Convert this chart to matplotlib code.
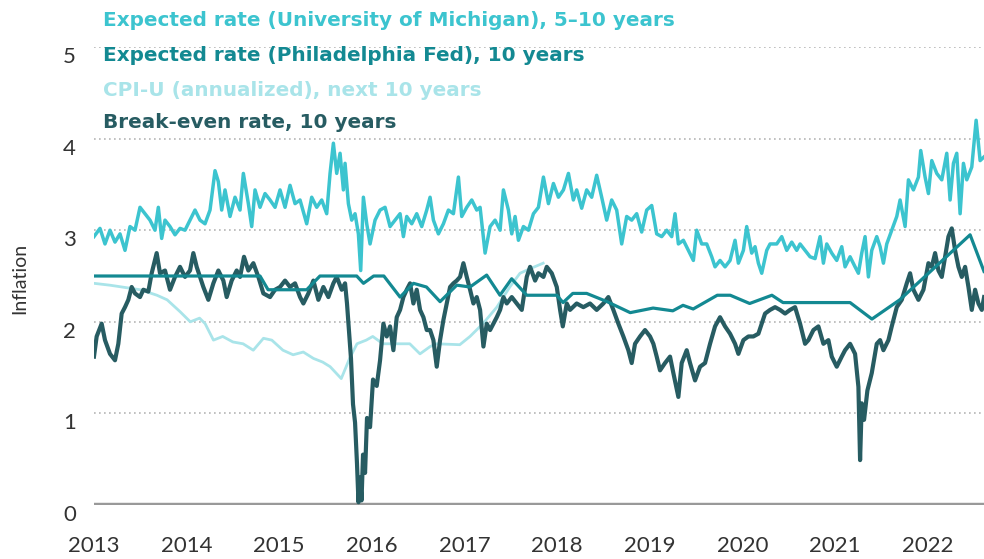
import numpy as np
import matplotlib.pyplot as plt

# Expected rate (University of Michigan), 5-10 years
mich_x = [2013.00, 2013.065, 2013.119, 2013.173, 2013.227, 2013.281, 2013.335, 2013.389,
          2013.443, 2013.497, 2013.551, 2013.605, 2013.659, 2013.695, 2013.731, 2013.767,
          2013.821, 2013.875, 2013.929, 2013.983, 2014.037, 2014.091, 2014.145, 2014.199,
          2014.253, 2014.307, 2014.343, 2014.379, 2014.415, 2014.469, 2014.523, 2014.577,
          2014.613, 2014.667, 2014.703, 2014.739, 2014.793, 2014.847, 2014.901, 2014.955,
          2015.009, 2015.063, 2015.117, 2015.171, 2015.225, 2015.297, 2015.351, 2015.405,
          2015.459, 2015.513, 2015.549, 2015.585, 2015.621, 2015.657, 2015.693, 2015.711,
          2015.747, 2015.783, 2015.819, 2015.855, 2015.880, 2015.909, 2015.945, 2015.981,
          2016.035, 2016.089, 2016.143, 2016.197, 2016.251, 2016.305, 2016.341, 2016.377,
          2016.431, 2016.485, 2016.539, 2016.593, 2016.629, 2016.665, 2016.719, 2016.773,
          2016.827, 2016.881, 2016.935, 2016.971, 2017.025, 2017.079, 2017.133, 2017.169,
          2017.223, 2017.277, 2017.331, 2017.385, 2017.421, 2017.475, 2017.511, 2017.547,
          2017.583, 2017.637, 2017.691, 2017.745, 2017.799, 2017.853, 2017.907, 2017.961,
          2018.015, 2018.069, 2018.123, 2018.176, 2018.212, 2018.266, 2018.320, 2018.374,
          2018.428, 2018.482, 2018.536, 2018.590, 2018.644, 2018.698, 2018.752, 2018.806,
          2018.860, 2018.914, 2018.968, 2019.022, 2019.076, 2019.130, 2019.184, 2019.238,
          2019.274, 2019.310, 2019.364, 2019.418, 2019.472, 2019.508, 2019.562, 2019.616,
          2019.670, 2019.706, 2019.760, 2019.814, 2019.868, 2019.922, 2019.958, 2020.012,
          2020.048, 2020.102, 2020.138, 2020.174, 2020.210, 2020.264, 2020.300, 2020.372,
          2020.426, 2020.480, 2020.534, 2020.588, 2020.624, 2020.678, 2020.732, 2020.786,
          2020.840, 2020.876, 2020.912, 2020.966, 2021.020, 2021.074, 2021.110, 2021.164,
          2021.218, 2021.254, 2021.290, 2021.326, 2021.362, 2021.398, 2021.452, 2021.488,
          2021.524, 2021.560, 2021.614, 2021.668, 2021.704, 2021.758, 2021.794, 2021.848,
          2021.902, 2021.927, 2021.974, 2022.010, 2022.046, 2022.100, 2022.154, 2022.208,
          2022.244, 2022.280, 2022.316, 2022.352, 2022.388, 2022.424, 2022.478, 2022.525,
          2022.568, 2022.610]
mich_y = [2.93, 3.02, 2.85, 3.00, 2.87, 2.96, 2.78, 3.04,
          3.00, 3.25, 3.18, 3.11, 3.00, 3.25, 2.91, 3.11,
          3.04, 2.95, 3.02, 3.00, 3.11, 3.22, 3.11, 3.07,
          3.22, 3.65, 3.53, 3.22, 3.44, 3.15, 3.36, 3.22,
          3.62, 3.29, 3.04, 3.44, 3.25, 3.40, 3.33, 3.25,
          3.44, 3.25, 3.49, 3.29, 3.33, 3.07, 3.36, 3.25,
          3.33, 3.18, 3.62, 3.95, 3.62, 3.84, 3.44, 3.73,
          3.29, 3.11, 3.18, 2.96, 2.56, 3.36, 3.07, 2.85,
          3.11, 3.22, 3.25, 3.04, 3.11, 3.18, 2.93, 3.15,
          3.07, 3.18, 3.04, 3.22, 3.36, 3.11, 2.96, 3.07,
          3.22, 3.18, 3.58, 3.15, 3.25, 3.33, 3.22, 3.25,
          2.75, 3.04, 3.11, 3.00, 3.44, 3.22, 2.96, 3.15,
          2.89, 3.04, 3.00, 3.18, 3.25, 3.58, 3.29, 3.51,
          3.36, 3.44, 3.62, 3.33, 3.44, 3.24, 3.44, 3.36,
          3.60, 3.36, 3.11, 3.33, 3.22, 2.85, 3.15, 3.11,
          3.18, 2.98, 3.22, 3.27, 2.96, 2.93, 3.00, 2.93,
          3.18, 2.85, 2.89, 2.78, 2.67, 3.00, 2.85, 2.85,
          2.71, 2.60, 2.67, 2.60, 2.67, 2.89, 2.64, 2.78,
          3.04, 2.75, 2.82, 2.64, 2.53, 2.78, 2.85, 2.85,
          2.93, 2.78, 2.87, 2.78, 2.85, 2.78, 2.71, 2.69,
          2.93, 2.64, 2.85, 2.75, 2.67, 2.82, 2.60, 2.71,
          2.60, 2.53, 2.75, 2.93, 2.49, 2.78, 2.93, 2.82,
          2.64, 2.85, 3.00, 3.15, 3.33, 3.04, 3.55, 3.44,
          3.58, 3.87, 3.58, 3.40, 3.76, 3.62, 3.55, 3.84,
          3.33, 3.73, 3.84, 3.18, 3.73, 3.55, 3.69, 4.20,
          3.76, 3.80]

# Expected rate (Philadelphia Fed), 10 years
phil_x = [2013.00, 2014.793, 2014.88, 2015.297, 2015.44, 2015.837, 2015.91, 2016.02,
          2016.13, 2016.305, 2016.45, 2016.59, 2016.737, 2016.917, 2017.06, 2017.24,
          2017.384, 2017.51, 2017.673, 2017.997, 2018.065, 2018.17, 2018.32, 2018.54,
          2018.79, 2019.037, 2019.25, 2019.36, 2019.47, 2019.73, 2019.87, 2020.08,
          2020.32, 2020.44, 2021.164, 2021.40, 2021.70, 2022.46, 2022.61]
phil_y = [2.50, 2.50, 2.35, 2.35, 2.50, 2.50, 2.42, 2.50,
          2.50, 2.27, 2.42, 2.38, 2.22, 2.40, 2.38, 2.51,
          2.29, 2.47, 2.29, 2.29, 2.21, 2.31, 2.31, 2.22,
          2.10, 2.15, 2.12, 2.18, 2.14, 2.29, 2.29, 2.20,
          2.29, 2.21, 2.21, 2.03, 2.24, 2.95, 2.55]

# CPI-U (annualized), next 10 years
cpi_x = [2013.00, 2013.17, 2013.50, 2013.68, 2013.79, 2013.93, 2014.04, 2014.14,
         2014.20, 2014.29, 2014.39, 2014.50, 2014.61, 2014.72, 2014.83, 2014.92,
         2015.04, 2015.15, 2015.26, 2015.37, 2015.47, 2015.55, 2015.67, 2015.76,
         2015.84, 2015.94, 2016.01, 2016.12, 2016.27, 2016.41, 2016.52, 2016.63,
         2016.70, 2016.95, 2017.06, 2017.20, 2017.35, 2017.49, 2017.60, 2017.71,
         2017.85]
cpi_y = [2.42, 2.40, 2.35, 2.29, 2.24, 2.11, 2.00, 2.04,
         1.98, 1.80, 1.84, 1.78, 1.76, 1.69, 1.82, 1.80,
         1.69, 1.64, 1.67, 1.60, 1.56, 1.51, 1.38, 1.60,
         1.76, 1.80, 1.84, 1.76, 1.76, 1.76, 1.65, 1.73,
         1.76, 1.75, 1.84, 1.98, 2.16, 2.38, 2.53, 2.58,
         2.64]

# Break-even rate, 10 years
be_x = [2013.00, 2013.029, 2013.083, 2013.119, 2013.173, 2013.227, 2013.263, 2013.299,
        2013.335, 2013.371, 2013.407, 2013.443, 2013.497, 2013.533, 2013.587, 2013.623,
        2013.677, 2013.713, 2013.767, 2013.821, 2013.875, 2013.929, 2013.983, 2014.037,
        2014.073, 2014.109, 2014.181, 2014.235, 2014.289, 2014.343, 2014.397, 2014.433,
        2014.487, 2014.541, 2014.577, 2014.620, 2014.667, 2014.721, 2014.775, 2014.829,
        2014.901, 2014.955, 2015.009, 2015.063, 2015.117, 2015.171, 2015.225, 2015.261,
        2015.315, 2015.369, 2015.423, 2015.477, 2015.531, 2015.585, 2015.621, 2015.675,
        2015.711, 2015.732, 2015.754, 2015.775, 2015.797, 2015.819, 2015.840, 2015.856,
        2015.873, 2015.889, 2015.905, 2015.927, 2015.948, 2015.981, 2016.013, 2016.053,
        2016.089, 2016.125, 2016.161, 2016.197, 2016.233, 2016.269, 2016.305, 2016.341,
        2016.377, 2016.413, 2016.449, 2016.485, 2016.521, 2016.557, 2016.593, 2016.629,
        2016.665, 2016.701, 2016.737, 2016.773, 2016.809, 2016.845, 2016.881, 2016.917,
        2016.953, 2016.989, 2017.025, 2017.061, 2017.097, 2017.133, 2017.169, 2017.205,
        2017.241, 2017.277, 2017.313, 2017.349, 2017.385, 2017.421, 2017.457, 2017.511,
        2017.565, 2017.619, 2017.673, 2017.709, 2017.763, 2017.799, 2017.853, 2017.889,
        2017.943, 2017.997, 2018.033, 2018.062, 2018.105, 2018.140, 2018.212, 2018.284,
        2018.356, 2018.428, 2018.500, 2018.554, 2018.608, 2018.662, 2018.716, 2018.770,
        2018.806, 2018.842, 2018.896, 2018.950, 2019.004, 2019.040, 2019.076, 2019.112,
        2019.166, 2019.220, 2019.256, 2019.310, 2019.346, 2019.400, 2019.436, 2019.490,
        2019.544, 2019.598, 2019.652, 2019.706, 2019.760, 2019.814, 2019.868, 2019.922,
        2019.958, 2020.012, 2020.066, 2020.120, 2020.174, 2020.210, 2020.246, 2020.300,
        2020.354, 2020.408, 2020.462, 2020.516, 2020.570, 2020.624, 2020.678, 2020.714,
        2020.768, 2020.822, 2020.876, 2020.930, 2020.966, 2021.020, 2021.074, 2021.110,
        2021.164, 2021.218, 2021.254, 2021.272, 2021.290, 2021.315, 2021.351, 2021.398,
        2021.452, 2021.488, 2021.524, 2021.578, 2021.614, 2021.668, 2021.722, 2021.776,
        2021.812, 2021.848, 2021.902, 2021.956, 2022.010, 2022.046, 2022.082, 2022.118,
        2022.154, 2022.190, 2022.226, 2022.262, 2022.298, 2022.334, 2022.370, 2022.406,
        2022.442, 2022.478, 2022.514, 2022.550, 2022.586, 2022.611]
be_y = [1.62, 1.84, 1.98, 1.80, 1.65, 1.58, 1.76, 2.09,
        2.16, 2.24, 2.38, 2.31, 2.27, 2.35, 2.33, 2.53,
        2.75, 2.53, 2.56, 2.35, 2.49, 2.60, 2.49, 2.56,
        2.75, 2.60, 2.38, 2.24, 2.42, 2.56, 2.45, 2.27,
        2.45, 2.56, 2.49, 2.71, 2.56, 2.64, 2.49, 2.31,
        2.27, 2.35, 2.38, 2.45, 2.38, 2.42, 2.27, 2.20,
        2.31, 2.45, 2.24, 2.38, 2.27, 2.42, 2.49, 2.35,
        2.42, 2.20, 1.90, 1.60, 1.10, 0.90, 0.45, 0.03,
        0.30, 0.05, 0.55, 0.35, 0.95, 0.85, 1.37, 1.30,
        1.58, 1.98, 1.84, 1.95, 1.69, 2.05, 2.13, 2.27,
        2.35, 2.42, 2.20, 2.35, 2.13, 2.05, 1.91, 1.91,
        1.80, 1.51, 1.80, 2.02, 2.20, 2.38, 2.42, 2.45,
        2.49, 2.64, 2.49, 2.35, 2.20, 2.27, 2.13, 1.73,
        1.98, 1.91, 1.98, 2.05, 2.13, 2.27, 2.20, 2.27,
        2.20, 2.13, 2.49, 2.60, 2.45, 2.53, 2.49, 2.60,
        2.53, 2.38, 2.13, 1.95, 2.20, 2.13, 2.20, 2.16,
        2.20, 2.13, 2.20, 2.27, 2.13, 1.98, 1.84, 1.69,
        1.55, 1.76, 1.84, 1.91, 1.84, 1.76, 1.62, 1.47,
        1.55, 1.62, 1.44, 1.18, 1.55, 1.69, 1.55, 1.36,
        1.51, 1.55, 1.76, 1.95, 2.05, 1.95, 1.87, 1.76,
        1.65, 1.80, 1.84, 1.84, 1.87, 1.98, 2.09, 2.13,
        2.16, 2.13, 2.09, 2.13, 2.16, 1.98, 1.76, 1.80,
        1.91, 1.95, 1.76, 1.80, 1.62, 1.51, 1.62, 1.69,
        1.76, 1.65, 1.29, 0.49, 1.11, 0.93, 1.25, 1.44,
        1.76, 1.80, 1.69, 1.80, 1.95, 2.16, 2.24, 2.42,
        2.53, 2.35, 2.24, 2.35, 2.64, 2.60, 2.75, 2.56,
        2.49, 2.71, 2.93, 3.02, 2.78, 2.60, 2.49, 2.60,
        2.38, 2.13, 2.35, 2.20, 2.13, 2.27]

years = list(range(2013, 2023))
yticks = [0, 1, 2, 3, 4, 5]

c_mich = "#3cc4cf"
c_phil = "#138992"
c_cpi = "#a9e4e9"
c_be = "#275c62"

fig = plt.figure(figsize=(9.84, 5.59), dpi=100)
ax = fig.add_axes([0.0955, 0.0966, 0.9045, 0.8193])

for v in yticks[1:]:
    ax.axhline(v, color="#b5b5b5", lw=1.2, ls=(0, (1, 2)), zorder=0)
ax.axhline(0, color="#999999", lw=3.2, zorder=1)

ax.plot(mich_x, mich_y, color=c_mich, lw=2.5, zorder=2)
ax.plot(cpi_x, cpi_y, color=c_cpi, lw=2.0, zorder=3)
ax.plot(be_x, be_y, color=c_be, lw=3.0, zorder=4)
ax.plot(phil_x, phil_y, color=c_phil, lw=2.3, zorder=5)

ax.set_xlim(2013.0, 2022.61)
ax.set_ylim(0, 5)
ax.set_xticks(years)
ax.set_xticklabels([str(y) for y in years], fontsize=16, family="Lato", color="#333333")
ax.set_yticks(yticks)
ax.set_yticklabels([str(v) for v in yticks], fontsize=16, family="Lato", color="#333333")
for lab in ax.get_yticklabels():
    lab.set_verticalalignment("top")
ax.tick_params(axis="both", length=0)
ax.tick_params(axis="x", pad=22)
ax.tick_params(axis="y", pad=13)
for s in ax.spines.values():
    s.set_visible(False)

fig.text(20 / 984, 1 - 278 / 559, "Inflation", rotation=90, ha="center", va="center",
         fontsize=14, family="Lato", color="#333333")

labels = [
    ("Expected rate (University of Michigan), 5\u201310 years", c_mich, 11),
    ("Expected rate (Philadelphia Fed), 10 years", c_phil, 46),
    ("CPI-U (annualized), next 10 years", c_cpi, 81),
    ("Break-even rate, 10 years", c_be, 113),
]
for txt, col, top in labels:
    fig.text(103 / 984, 1 - top / 559, txt, ha="left", va="top", fontsize=14.4,
             family="DejaVu Sans", weight="bold", color=col)

fig.savefig("out.png", dpi=100)
